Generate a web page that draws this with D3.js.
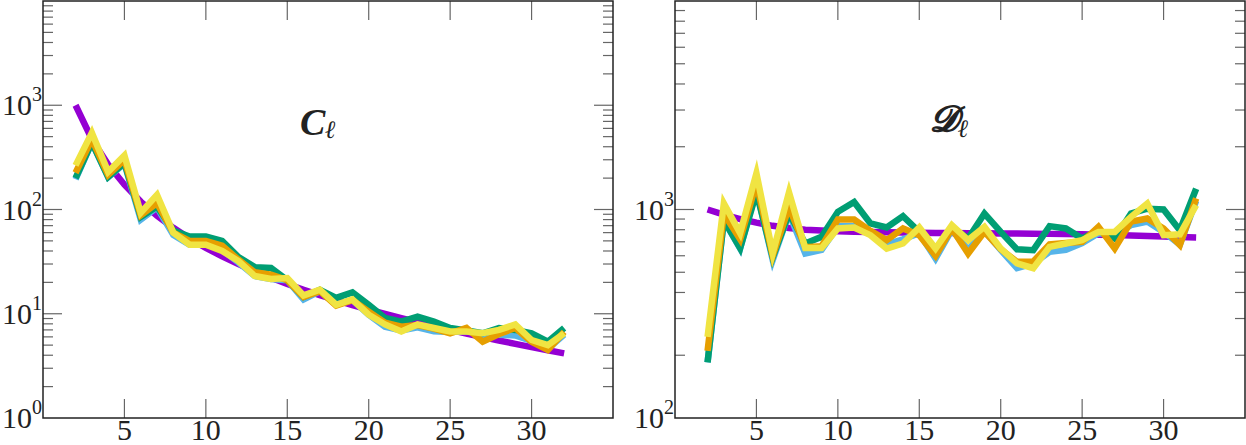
<!DOCTYPE html>
<html><head><meta charset="utf-8">
<script src="https://cdn.jsdelivr.net/npm/d3@7"></script>
<style>body{margin:0;background:#fff}svg{display:block}</style>
</head><body><svg id="c" width="1246" height="445"></svg>
<script>
const ells = [2,3,4,5,6,7,8,9,10,11,12,13,14,15,16,17,18,19,20,21,22,23,24,25,26,27,28,29,30,31,32];

// Left panel: C_ell
const clTheory = [1000,472,270,173,119,87.3,66.7,52.8,42.9,35.5,30.0,25.6,22.1,19.3,17.0,15.1,13.5,12.1,10.97,9.96,9.08,8.30,7.62,7.02,6.47,5.98,5.54,5.14,4.79,4.46,4.17];
const clBlue   = [195,440,205,275,80,105,57,46,47,41,31,23,21.5,21,13.7,16.5,12.2,13.5,9.8,7.5,6.9,7.4,6.8,6.7,6.8,6.3,6.3,6.2,5.5,4.6,6.3];
const clGreen  = [200,440,205,280,85,107,63,55,55,50,35,28,27.5,21,14.5,17,14.2,16,12.2,9.1,8.4,9.4,8.4,7.3,6.9,6.5,7.3,7.0,6.5,5.4,7.3];
const clOrange = [225,470,215,300,88,115,60,50,50,45,33,25,23.7,21,14.5,16.5,12,13.5,10.5,8.2,7.5,7.8,7.2,6.5,7.3,5.4,6.4,7.3,5.4,4.5,6.7];
const clYellow = [265,545,230,330,93,138,60,46,46,40,32,23,21.6,22,15,17,12.2,13.7,9.8,7.9,6.75,7.9,7.3,6.75,6.75,6.5,7.0,7.9,5.6,5.0,6.5];

// Right panel: D_ell
const dlTheory = [1000,945,900,865,835,815,800,792,786,782,779,777,775,773,772,771,770,769,768,767,766,764,762,760,757,754,750,746,742,738,734];
const dlBlue   = [185,890,650,1250,572,960,615,640,830,830,760,680,720,770,582,800,640,790,640,523,550,627,640,690,770,760,841,875,780,680,1100];
const dlGreen  = [185,890,653,1210,590,960,687,740,975,1087,857,820,929,781,620,820,726,957,781,644,638,832,811,726,795,726,957,1009,1000,795,1258];
const dlOrange = [210,955,720,1340,600,1025,660,667,895,895,790,713,811,753,600,811,615,781,645,561,563,680,690,700,826,650,875,906,811,675,1130];
const dlYellow = [245,1070,770,1490,617,1210,653,653,811,820,753,650,687,820,650,841,713,826,650,552,523,662,687,713,781,781,922,1069,753,760,1050];

const xTickValues = [5,10,15,20,25,30];
const leftExps = [0,1,2,3];
const rightExps = [2,3];

const colors = {theory:'#9400D3', blue:'#56B4E9', green:'#009E73', orange:'#E69F00', yellow:'#F0E442'};
const FONT = "'Liberation Serif','DejaVu Serif',serif";

const svg = d3.select('#c');

function panel(o) {
  const g = svg.append('g');
  const x = d3.scaleLinear().domain([0,35]).range([o.x0,o.x1]);
  const y = d3.scaleLog().domain(o.yDomain).range([o.y1,o.y0]);

  const line = d3.line().x((d,i)=>x(ells[i])).y(d=>y(d));
  const series = [[o.theory,colors.theory],[o.blue,colors.blue],[o.green,colors.green],[o.orange,colors.orange],[o.yellow,colors.yellow]];
  const clipId = 'clip'+o.id;
  svg.append('clipPath').attr('id',clipId).append('rect')
    .attr('x',o.x0).attr('y',o.y0).attr('width',o.x1-o.x0).attr('height',o.y1-o.y0);
  const lg = g.append('g').attr('clip-path',`url(#${clipId})`);
  series.forEach(([vals,col])=>{
    lg.append('path').datum(vals).attr('d',line)
      .attr('fill','none').attr('stroke',col).attr('stroke-width',6.5)
      .attr('stroke-linejoin','miter').attr('stroke-miterlimit',10);
  });

  const [lo,hi] = o.yDomain;
  const tickCol = '#666';
  const yt = [];
  for (let dec = lo; dec < hi; dec *= 10) {
    for (let m = 1; m < 10; m++) yt.push({v: dec*m, major: m===1});
  }
  yt.forEach(t=>{
    const len = t.major ? 19 : 10;
    const yy = y(t.v);
    if (yy < o.y0+0.5 || yy > o.y1-0.5) return;
    g.append('line').attr('x1',o.x0).attr('x2',o.x0+len).attr('y1',yy).attr('y2',yy).attr('stroke',tickCol).attr('stroke-width',1.2);
    g.append('line').attr('x1',o.x1-len).attr('x2',o.x1).attr('y1',yy).attr('y2',yy).attr('stroke',tickCol).attr('stroke-width',1.2);
  });
  xTickValues.forEach(v=>{
    const xx = x(v);
    g.append('line').attr('x1',xx).attr('x2',xx).attr('y1',o.y1).attr('y2',o.y1-19).attr('stroke',tickCol).attr('stroke-width',1.2);
    g.append('line').attr('x1',xx).attr('x2',xx).attr('y1',o.y0).attr('y2',o.y0+19).attr('stroke',tickCol).attr('stroke-width',1.2);
    g.append('text').attr('x',xx).attr('y',440).attr('text-anchor','middle')
      .attr('font-family',FONT).attr('font-size',30).attr('fill','#222').text(v);
  });
  o.exps.forEach(e=>{
    const yy = y(Math.pow(10,e));
    const t = g.append('text').attr('x',o.x0-1).attr('y',yy+10).attr('text-anchor','end')
      .attr('font-family',FONT).attr('font-size',30).attr('fill','#222');
    t.append('tspan').text('10');
    t.append('tspan').attr('dy',-14).attr('font-size',20).text(e);
  });
  g.append('rect').attr('x',o.x0).attr('y',o.y0).attr('width',o.x1-o.x0).attr('height',o.y1-o.y0)
    .attr('fill','none').attr('stroke','#222').attr('stroke-width',1.5);
  const tt = g.append('text').attr('x',o.tx).attr('y',o.ty)
    .attr('font-family',FONT).attr('font-weight','bold').attr('font-style','italic')
    .attr('font-size',o.tsize).attr('fill','#222');
  tt.append('tspan').text(o.title);
  tt.append('tspan').attr('dy',o.sdy).attr('font-size',25).text('\u2113');
}

panel({id:'L', x0:43, x1:613, y0:1, y1:418, yDomain:[1,1e4], exps:leftExps,
  theory:clTheory, blue:clBlue, green:clGreen, orange:clOrange, yellow:clYellow,
  title:'C', tx:300, ty:135, tsize:38, sdy:3});
panel({id:'R', x0:675, x1:1245, y0:1, y1:418, yDomain:[100,1e4], exps:rightExps,
  theory:dlTheory, blue:dlBlue, green:dlGreen, orange:dlOrange, yellow:dlYellow,
  title:'\uD835\uDCD3', tx:930, ty:131, tsize:36, sdy:6});
</script></body></html>
